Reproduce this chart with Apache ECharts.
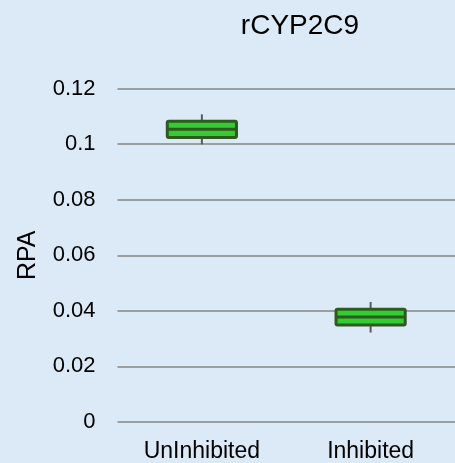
<!DOCTYPE html>
<html>
<head>
<meta charset="utf-8">
<script src="https://cdn.jsdelivr.net/npm/echarts@6/dist/echarts.min.js"></script>
<style>html,body{margin:0;padding:0;background:#dce9f6;}#c{width:455px;height:463px;}</style>
</head>
<body>
<div id="c"></div>
<script>
var categories = ['UnInhibited', 'Inhibited'];
var whiskerLow = [0.0999, 0.0322];
var q1 = [0.1024, 0.0349];
var median = [0.1053, 0.0378];
var q3 = [0.1082, 0.0406];
var whiskerHigh = [0.1107, 0.0432];
var yTicks = [0, 0.02, 0.04, 0.06, 0.08, 0.1, 0.12];

var data = categories.map(function (c, i) {
  return [i, whiskerLow[i], q1[i], median[i], q3[i], whiskerHigh[i]];
});

var chart = echarts.init(document.getElementById('c'));
chart.setOption({
  backgroundColor: '#dce9f6',
  animation: false,
  title: {
    text: 'rCYP2C9', left: 295, top: 7, textAlign: 'center',
    textStyle: { fontFamily: 'Liberation Sans', fontSize: 28, fontWeight: 'normal', color: '#000' }
  },
  grid: { left: 117.5, right: -5, top: 88.5, bottom: 40.5 },
  xAxis: {
    type: 'category', data: categories,
    axisLine: { show: false }, axisTick: { show: false },
    axisLabel: { fontFamily: 'Liberation Sans', fontSize: 23, color: '#000', margin: 18 }
  },
  yAxis: {
    type: 'value', min: 0, max: 0.12, interval: 0.02,
    name: 'RPA', nameLocation: 'middle', nameGap: 77, nameRotate: 90,
    nameTextStyle: { fontFamily: 'Liberation Sans', fontSize: 25, color: '#000' },
    axisLine: { show: false }, axisTick: { show: false },
    axisLabel: { fontFamily: 'Liberation Sans', fontSize: 22, color: '#000', margin: 22,
      formatter: function (v) {
        var t = yTicks.filter(function (k) { return Math.abs(k - v) < 1e-9; });
        return t.length ? String(t[0]) : '';
      } },
    splitLine: { lineStyle: { color: '#858585', width: 1.6 } }
  },
  series: [{
    type: 'custom',
    data: data,
    encode: { x: 0, y: [1, 2, 3, 4, 5] },
    renderItem: function (params, api) {
      var x = api.value(0);
      var pLow = api.coord([x, api.value(1)]);
      var pQ1 = api.coord([x, api.value(2)]);
      var pMed = api.coord([x, api.value(3)]);
      var pQ3 = api.coord([x, api.value(4)]);
      var pHigh = api.coord([x, api.value(5)]);
      var bw = api.size([1, 0])[0] * 0.41;
      var cx = pMed[0];
      return {
        type: 'group',
        children: [
          { type: 'line', shape: { x1: cx, y1: pHigh[1], x2: cx, y2: pQ3[1] }, style: { stroke: '#5a5a5a', lineWidth: 2 } },
          { type: 'line', shape: { x1: cx, y1: pQ1[1], x2: cx, y2: pLow[1] }, style: { stroke: '#5a5a5a', lineWidth: 2 } },
          { type: 'rect', shape: { x: cx - bw / 2, y: pQ3[1], width: bw, height: pQ1[1] - pQ3[1], r: 1.5 },
            style: { fill: '#33cc33', stroke: '#2f5a1f', lineWidth: 3 } },
          { type: 'line', shape: { x1: cx - bw / 2, y1: pMed[1], x2: cx + bw / 2, y2: pMed[1] }, style: { stroke: '#2f5a1f', lineWidth: 3 } }
        ]
      };
    }
  }]
});
</script>
</body>
</html>
